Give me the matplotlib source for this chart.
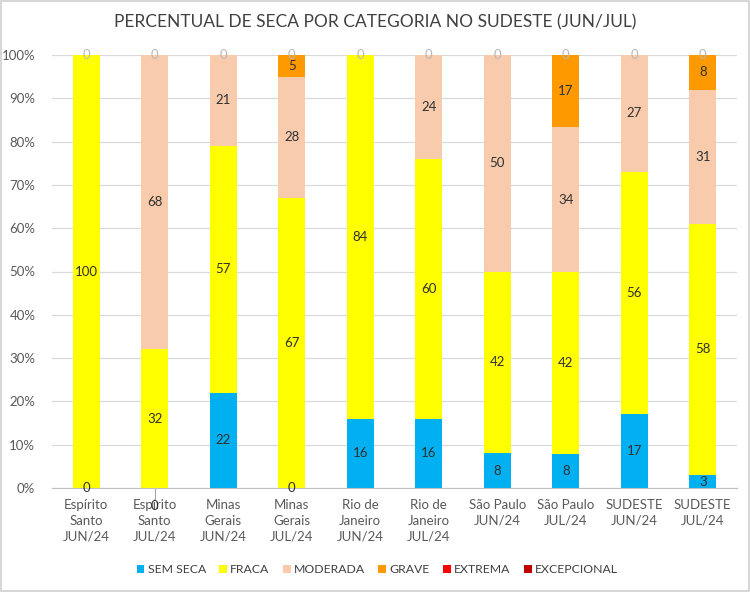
import matplotlib
matplotlib.use("Agg")
import matplotlib.pyplot as plt
import numpy as np
from matplotlib.patches import Rectangle

plt.rcParams['font.family'] = ['Lato', 'DejaVu Sans']

categories = ["Espírito\nSanto\nJUN/24", "Espírito\nSanto\nJUL/24", "Minas\nGerais\nJUN/24",
              "Minas\nGerais\nJUL/24", "Rio de\nJaneiro\nJUN/24", "Rio de\nJaneiro\nJUL/24",
              "São Paulo\nJUN/24", "São Paulo\nJUL/24", "SUDESTE\nJUN/24", "SUDESTE\nJUL/24"]
series_names = ["SEM SECA", "FRACA", "MODERADA", "GRAVE", "EXTREMA", "EXCEPCIONAL"]
sem_seca    = [0, 0, 22, 0, 16, 16, 8, 7.9, 17, 3]
fraca       = [100, 32, 57, 67, 84, 60, 42, 41.9, 56, 58]
moderada    = [0, 68, 21, 28, 0, 24, 50, 33.6, 27, 31]
grave       = [0, 0, 0, 5, 0, 0, 0, 16.6, 0, 8]
extrema     = [0, 0, 0, 0, 0, 0, 0, 0, 0, 0]
excepcional = [0, 0, 0, 0, 0, 0, 0, 0, 0, 0]
colors = ["#00B0F0", "#FFFF00", "#F8CBAD", "#FF9900", "#FF0000", "#C00000"]

data = np.array([sem_seca, fraca, moderada, grave, extrema, excepcional], dtype=float)
totals = data.sum(axis=0)
pct = data / totals * 100

fig = plt.figure(figsize=(7.5, 5.92), dpi=100)
fig.patches.append(Rectangle((0.001, 0.001), 0.998, 0.997, transform=fig.transFigure,
                             fill=False, edgecolor="#D0D0D0", linewidth=1.2))
ax = fig.add_axes([52/750, 104/592, 685/750, 433/592])

x = np.arange(len(categories))
bottom = np.zeros(len(categories))
for i, name in enumerate(series_names):
    ax.bar(x, pct[i], bottom=bottom, width=0.4, color=colors[i], label=name, zorder=3)
    for j in range(len(categories)):
        v = pct[i][j]
        if data[i][j] > 0:
            ax.text(x[j], bottom[j] + v / 2, f"{data[i][j]:.0f}", ha="center", va="center",
                    fontsize=9.5, color="#303030", zorder=5)
        elif i == 0:
            if j == 1:
                ax.plot([x[j], x[j]], [0, -2.8], color="#A6A6A6", lw=0.8, clip_on=False, zorder=4)
                ax.text(x[j], -4.2, "0", ha="center", va="center", fontsize=9.5,
                        color="#303030", clip_on=False, zorder=5)
            else:
                ax.text(x[j], 0, "0", ha="center", va="center", fontsize=9.5,
                        color="#303030", zorder=5)
    bottom += pct[i]

for j in range(len(categories)):
    ax.text(x[j], 100, "0", ha="center", va="center", fontsize=9.5, color="#B8B8B8", zorder=5)

ax.set_xlim(-0.5, len(categories) - 0.5)
ax.set_ylim(0, 100)
ax.set_yticks(np.arange(0, 101, 10))
ax.set_yticklabels([f"{v}%" for v in range(0, 101, 10)], fontsize=9.5, color="#595959")
ax.set_xticks(x)
ax.set_xticklabels(categories, fontsize=9.5, color="#595959", linespacing=1.35)
ax.tick_params(axis="both", length=0)
ax.tick_params(axis="y", pad=12)
ax.tick_params(axis="x", pad=8)
ax.grid(axis="y", color="#D9D9D9", linewidth=0.9, zorder=0)
for s in ["left", "right", "top"]:
    ax.spines[s].set_visible(False)
ax.spines["bottom"].set_color("#BFBFBF")
ax.spines["bottom"].set_zorder(4)

fig.text(0.5, 0.962, "PERCENTUAL DE SECA POR CATEGORIA NO SUDESTE (JUN/JUL)", ha="center",
         va="center", fontsize=12.5, color="#404040")

handles, labels = ax.get_legend_handles_labels()
fig.legend(handles, labels, loc="center", bbox_to_anchor=(0.503, 0.038), ncol=6, frameon=False,
           fontsize=8.8, labelcolor="#404040", handlelength=0.65, handleheight=0.65,
           handletextpad=0.25, columnspacing=1.1)

fig.savefig("out.png", dpi=100)
